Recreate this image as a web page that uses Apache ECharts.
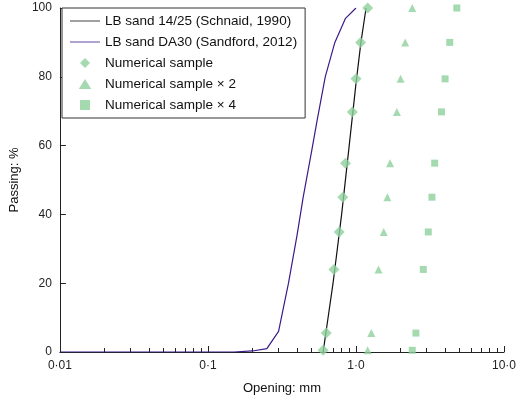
<!DOCTYPE html><html><head><meta charset="utf-8"><script src="https://cdn.jsdelivr.net/npm/echarts@6/dist/echarts.min.js"></script></head><body style="margin:0"><div id="c" style="width:520px;height:403px"></div><script>
const xTicks = {0.01:'0·01',0.1:'0·1',1:'1·0',10:'10·0'};
const schnaid = [[0.6,0],[0.7,20],[0.8,40],[0.9,60],[1.0,78],[1.08,90],[1.17,100]];
const sandford = [[0.01,0],[0.15,0],[0.2,0.3],[0.25,1],[0.3,6],[0.35,20],[0.4,34],[0.44,45],[0.5,58],[0.55,68],[0.62,80],[0.72,90],[0.85,97],[1.0,100]];
const pctY = [0.5,5.5,24,34.9,45,54.9,69.8,79.4,90,100];
const sample = [0.6,0.63,0.71,0.77,0.815,0.85,0.945,1.0,1.075,1.2];
const sample2 = [1.2,1.27,1.42,1.54,1.63,1.7,1.89,2.0,2.15,2.4];
const sample4 = [2.4,2.54,2.85,3.08,3.26,3.4,3.78,4.0,4.3,4.8];
const green = '#8fd19e';
const pts = a => a.map((x,i)=>[x,pctY[i]]);
const lineIcon = 'path://M0,4.6H30V5.4H0Z';
const ch = echarts.init(document.getElementById('c'));
ch.setOption({
  textStyle:{fontFamily:'Liberation Sans, Arial, sans-serif'},
  grid:{left:54,right:16,top:8,bottom:51},
  legend:{z:20,orient:'vertical',left:62,top:8,backgroundColor:'#fff',borderColor:'#333',borderWidth:1,borderRadius:0,padding:[6,8],itemGap:7,itemWidth:30,itemHeight:10,textStyle:{fontSize:13.5,color:'#111'},
    data:[{name:'LB sand 14/25 (Schnaid, 1990)',icon:lineIcon},{name:'LB sand DA30 (Sandford, 2012)',icon:lineIcon},
      {name:'Numerical sample',icon:'path://M0,5L5,0L10,5L5,10Z'},{name:'Numerical sample × 2',icon:'path://M0,9L5,1L10,9Z'},{name:'Numerical sample × 4',icon:'path://M1,1H9V9H1Z'}]},
  xAxis:{type:'log',min:0.01,max:10,logBase:10,name:'Opening: mm',nameLocation:'middle',nameGap:30,nameTextStyle:{fontSize:13,color:'#111'},
    axisLine:{lineStyle:{color:'#222'}},axisTick:{inside:true,length:6,lineStyle:{color:'#222'}},minorTick:{show:true,splitNumber:9,length:4,lineStyle:{color:'#222'}},
    splitLine:{show:false},axisLabel:{fontSize:12,color:'#222',formatter:v=>xTicks[+v.toPrecision(3)]||''}},
  yAxis:{type:'value',min:0,max:100,interval:20,name:'Passing: %',nameLocation:'middle',nameGap:34,nameTextStyle:{fontSize:13,color:'#111'},
    axisLine:{show:true,lineStyle:{color:'#222'}},axisTick:{show:true,inside:true,length:6,lineStyle:{color:'#222'}},splitLine:{show:false},axisLabel:{fontSize:12,color:'#222'}},
  series:[
    {name:'LB sand 14/25 (Schnaid, 1990)',type:'line',data:schnaid,symbol:'none',lineStyle:{color:'#111',width:1.2},itemStyle:{color:'#111'},z:3},
    {name:'LB sand DA30 (Sandford, 2012)',type:'line',data:sandford,symbol:'none',lineStyle:{color:'#3b1a8a',width:1.2},itemStyle:{color:'#3b1a8a'},z:3},
    {name:'Numerical sample',type:'scatter',data:pts(sample),symbol:'diamond',symbolSize:11,itemStyle:{color:green},z:4},
    {name:'Numerical sample × 2',type:'scatter',data:pts(sample2),symbol:'triangle',symbolSize:8,itemStyle:{color:green},z:4},
    {name:'Numerical sample × 4',type:'scatter',data:pts(sample4),symbol:'rect',symbolSize:7,itemStyle:{color:green},z:4}
  ]
});
</script></body></html>
